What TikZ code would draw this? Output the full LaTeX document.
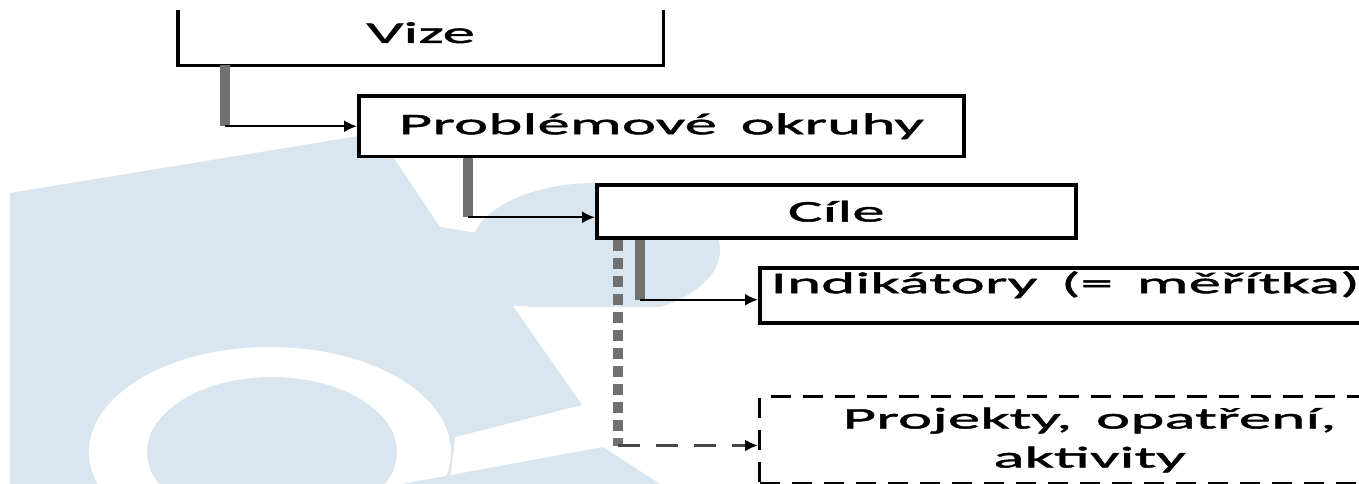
\documentclass[tikz,border=0pt]{standalone}
\usepackage{fontspec}
\setmainfont{Carlito}[FakeStretch=2.17,FakeBold=1.5,WordSpace=1.6]
\usetikzlibrary{arrows.meta,positioning}
\definecolor{wmblue}{RGB}{217,230,240}
\definecolor{bargray}{RGB}{112,112,112}
\definecolor{dashgray}{RGB}{70,70,70}
\tikzset{
	box/.style={rectangle, draw, fill=white, line width=3.5pt, anchor=north west, inner sep=0pt, font=\fontsize{30}{39}\selectfont},
	dashbox/.style={box, dash pattern=on 20pt off 12pt, line width=3pt},
	bar/.style={draw=bargray, line width=10pt},
	dotbar/.style={bar, dash pattern=on 11pt off 7pt},
	link/.style={line width=2pt, -{Latex[length=13pt,width=12pt]}},
	dashlink/.style={draw=dashgray, line width=3pt, dash pattern=on 22pt off 16pt, -{Latex[length=13pt,width=12pt,color=black]}}
}
\begin{document}
\begin{tikzpicture}[x=1pt,y=-1pt]
	\useasboundingbox (0,0) rectangle (1359,484);
	\clip (0,0) rectangle (1359,484);
	
	\fill[wmblue] (10,193) -- (377,133) -- (440,227) -- (520,240) -- (650,305) -- (513,306) -- (582,405) -- (455,437) -- (450,484) -- (10,484) -- cycle;
	\begin{scope}
		\clip (400,150) rectangle (760,306);
		\fill[wmblue] (595,250) ellipse [x radius=125pt, y radius=67pt];
	\end{scope}
	\fill[white, even odd rule] (270,452) ellipse [x radius=181pt, y radius=105pt] (272,452) ellipse [x radius=125pt, y radius=75pt];
	\fill[wmblue] (402,484) -- (603,447) -- (660,484) -- cycle;
	
	\node (vize) [box, draw=none, minimum width=482pt, minimum height=62pt] at (178,0) {Vize};
	\draw[line width=3.5pt] ([yshift=-10pt]vize.north west) -- (vize.south west) -- (vize.south east) -- ([yshift=-10pt]vize.north east);
	\node (probl) [box, minimum width=605pt, minimum height=60pt] at (357,94.5) {Problémové okruhy};
	\node (cile) [box, minimum width=479pt, minimum height=53pt] at (595,183) {Cíle};
	\node (indik) [box, minimum width=611pt, minimum height=55pt, text depth=26pt] at (758,266) {Indikátory (= měřítka)};
	\node (proj) [dashbox, minimum width=660pt, minimum height=87pt, align=center] at (758,395) {Projekty, opatření,\\aktivity};
	
	\coordinate (v1) at ([xshift=47pt]vize.south west);
	\draw[bar] (v1) -- (v1 |- probl.west);
	\draw[link] (v1 |- probl.west) -- (probl.west);
	
	\coordinate (p1) at ([xshift=111pt]probl.south west);
	\coordinate (c0) at ([yshift=-6pt]cile.west);
	\draw[bar] (p1) -- (p1 |- c0);
	\draw[link] (p1 |- c0) -- (c0);
	
	\coordinate (c1) at ([xshift=45pt]cile.south west);
	\coordinate (i0) at ([yshift=-4.5pt]indik.west);
	\draw[bar] (c1) -- (c1 |- i0);
	\draw[link] (c1 |- i0) -- (i0);
	
	\coordinate (c2) at ([xshift=23pt]cile.south west);
	\coordinate (j0) at ([yshift=-5.5pt]proj.west);
	\draw[dotbar] (c2) -- (c2 |- j0);
	\draw[dashlink] (c2 |- j0) -- (j0);
\end{tikzpicture}
\end{document}
